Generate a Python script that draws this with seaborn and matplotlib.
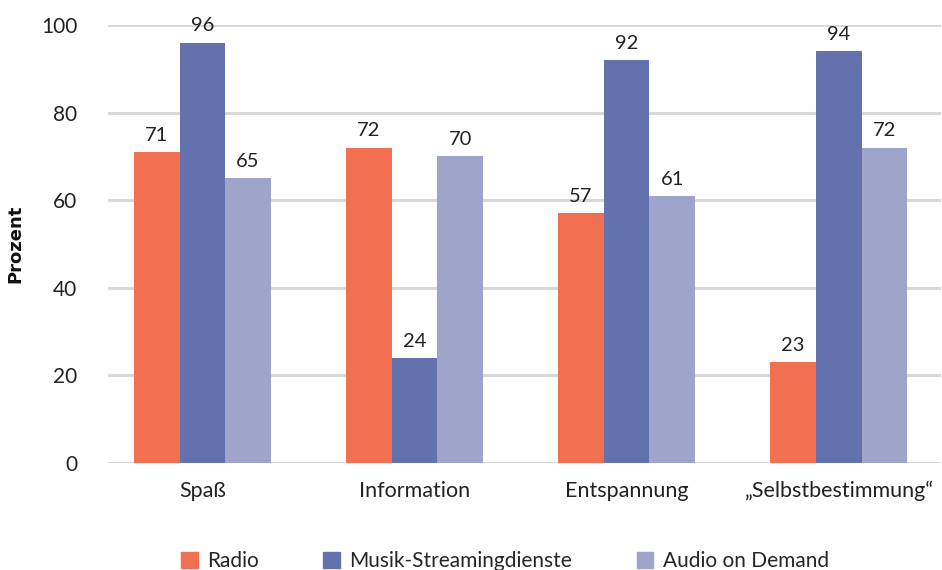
import matplotlib
matplotlib.use("Agg")
import matplotlib.pyplot as plt
import seaborn as sns
import pandas as pd

categories = ["Spaß", "Information", "Entspannung", "„Selbstbestimmung“"]
series = ["Radio", "Musik-Streamingdienste", "Audio on Demand"]
radio = [71, 72, 57, 23]
streaming = [96, 24, 92, 94]
audio_on_demand = [65, 70, 61, 72]
y_ticks = [0, 20, 40, 60, 80, 100]

colors = ["#F17052", "#6372AD", "#9EA4CA"]

df = pd.DataFrame({
    "Kategorie": categories * 3,
    "Quelle": [s for s in series for _ in categories],
    "Prozent": radio + streaming + audio_on_demand,
})

sns.set_theme(style="white")
plt.rcParams["font.family"] = ["Lato", "DejaVu Sans"]

fig = plt.figure(figsize=(9.42, 5.70), dpi=100)
ax = fig.add_axes([0.1146, 0.1877, 0.884, 0.7684])

sns.barplot(data=df, x="Kategorie", y="Prozent", hue="Quelle",
            palette=colors, width=0.645, saturation=1, ax=ax,
            edgecolor="none", linewidth=0, legend=False)

for container in ax.containers:
    ax.bar_label(container, fmt="%d", padding=6, fontsize=14.5, color="#222222")

ax.set_ylim(0, 100)
ax.set_xlim(-0.445, 3.48)
ax.set_yticks(y_ticks)
ax.yaxis.grid(True, color="#D9D9D9", linewidth=2.2)
ax.set_axisbelow(True)
for side in ["top", "right", "left", "bottom"]:
    ax.spines[side].set_visible(False)
ax.tick_params(axis="y", length=0, pad=22, labelsize=15, labelcolor="#222222")
ax.tick_params(axis="x", length=0, pad=13, labelsize=15.5, labelcolor="#222222")
ax.set_xlabel("")
ax.set_ylabel("Prozent", fontsize=13, fontweight="bold",
              family=["DejaVu Sans"], color="#111111")
ax.yaxis.set_label_coords(-0.1, 0.5)

handles = [plt.Rectangle((0, 0), 1, 1, color=c) for c in colors]
fig.legend(handles, series, loc="lower center", ncol=3, frameon=False,
           bbox_to_anchor=(0.536, -0.035), fontsize=15, handlelength=0.8,
           handleheight=0.8, columnspacing=3.1, handletextpad=0.45)

fig.savefig("out.png", dpi=100)
